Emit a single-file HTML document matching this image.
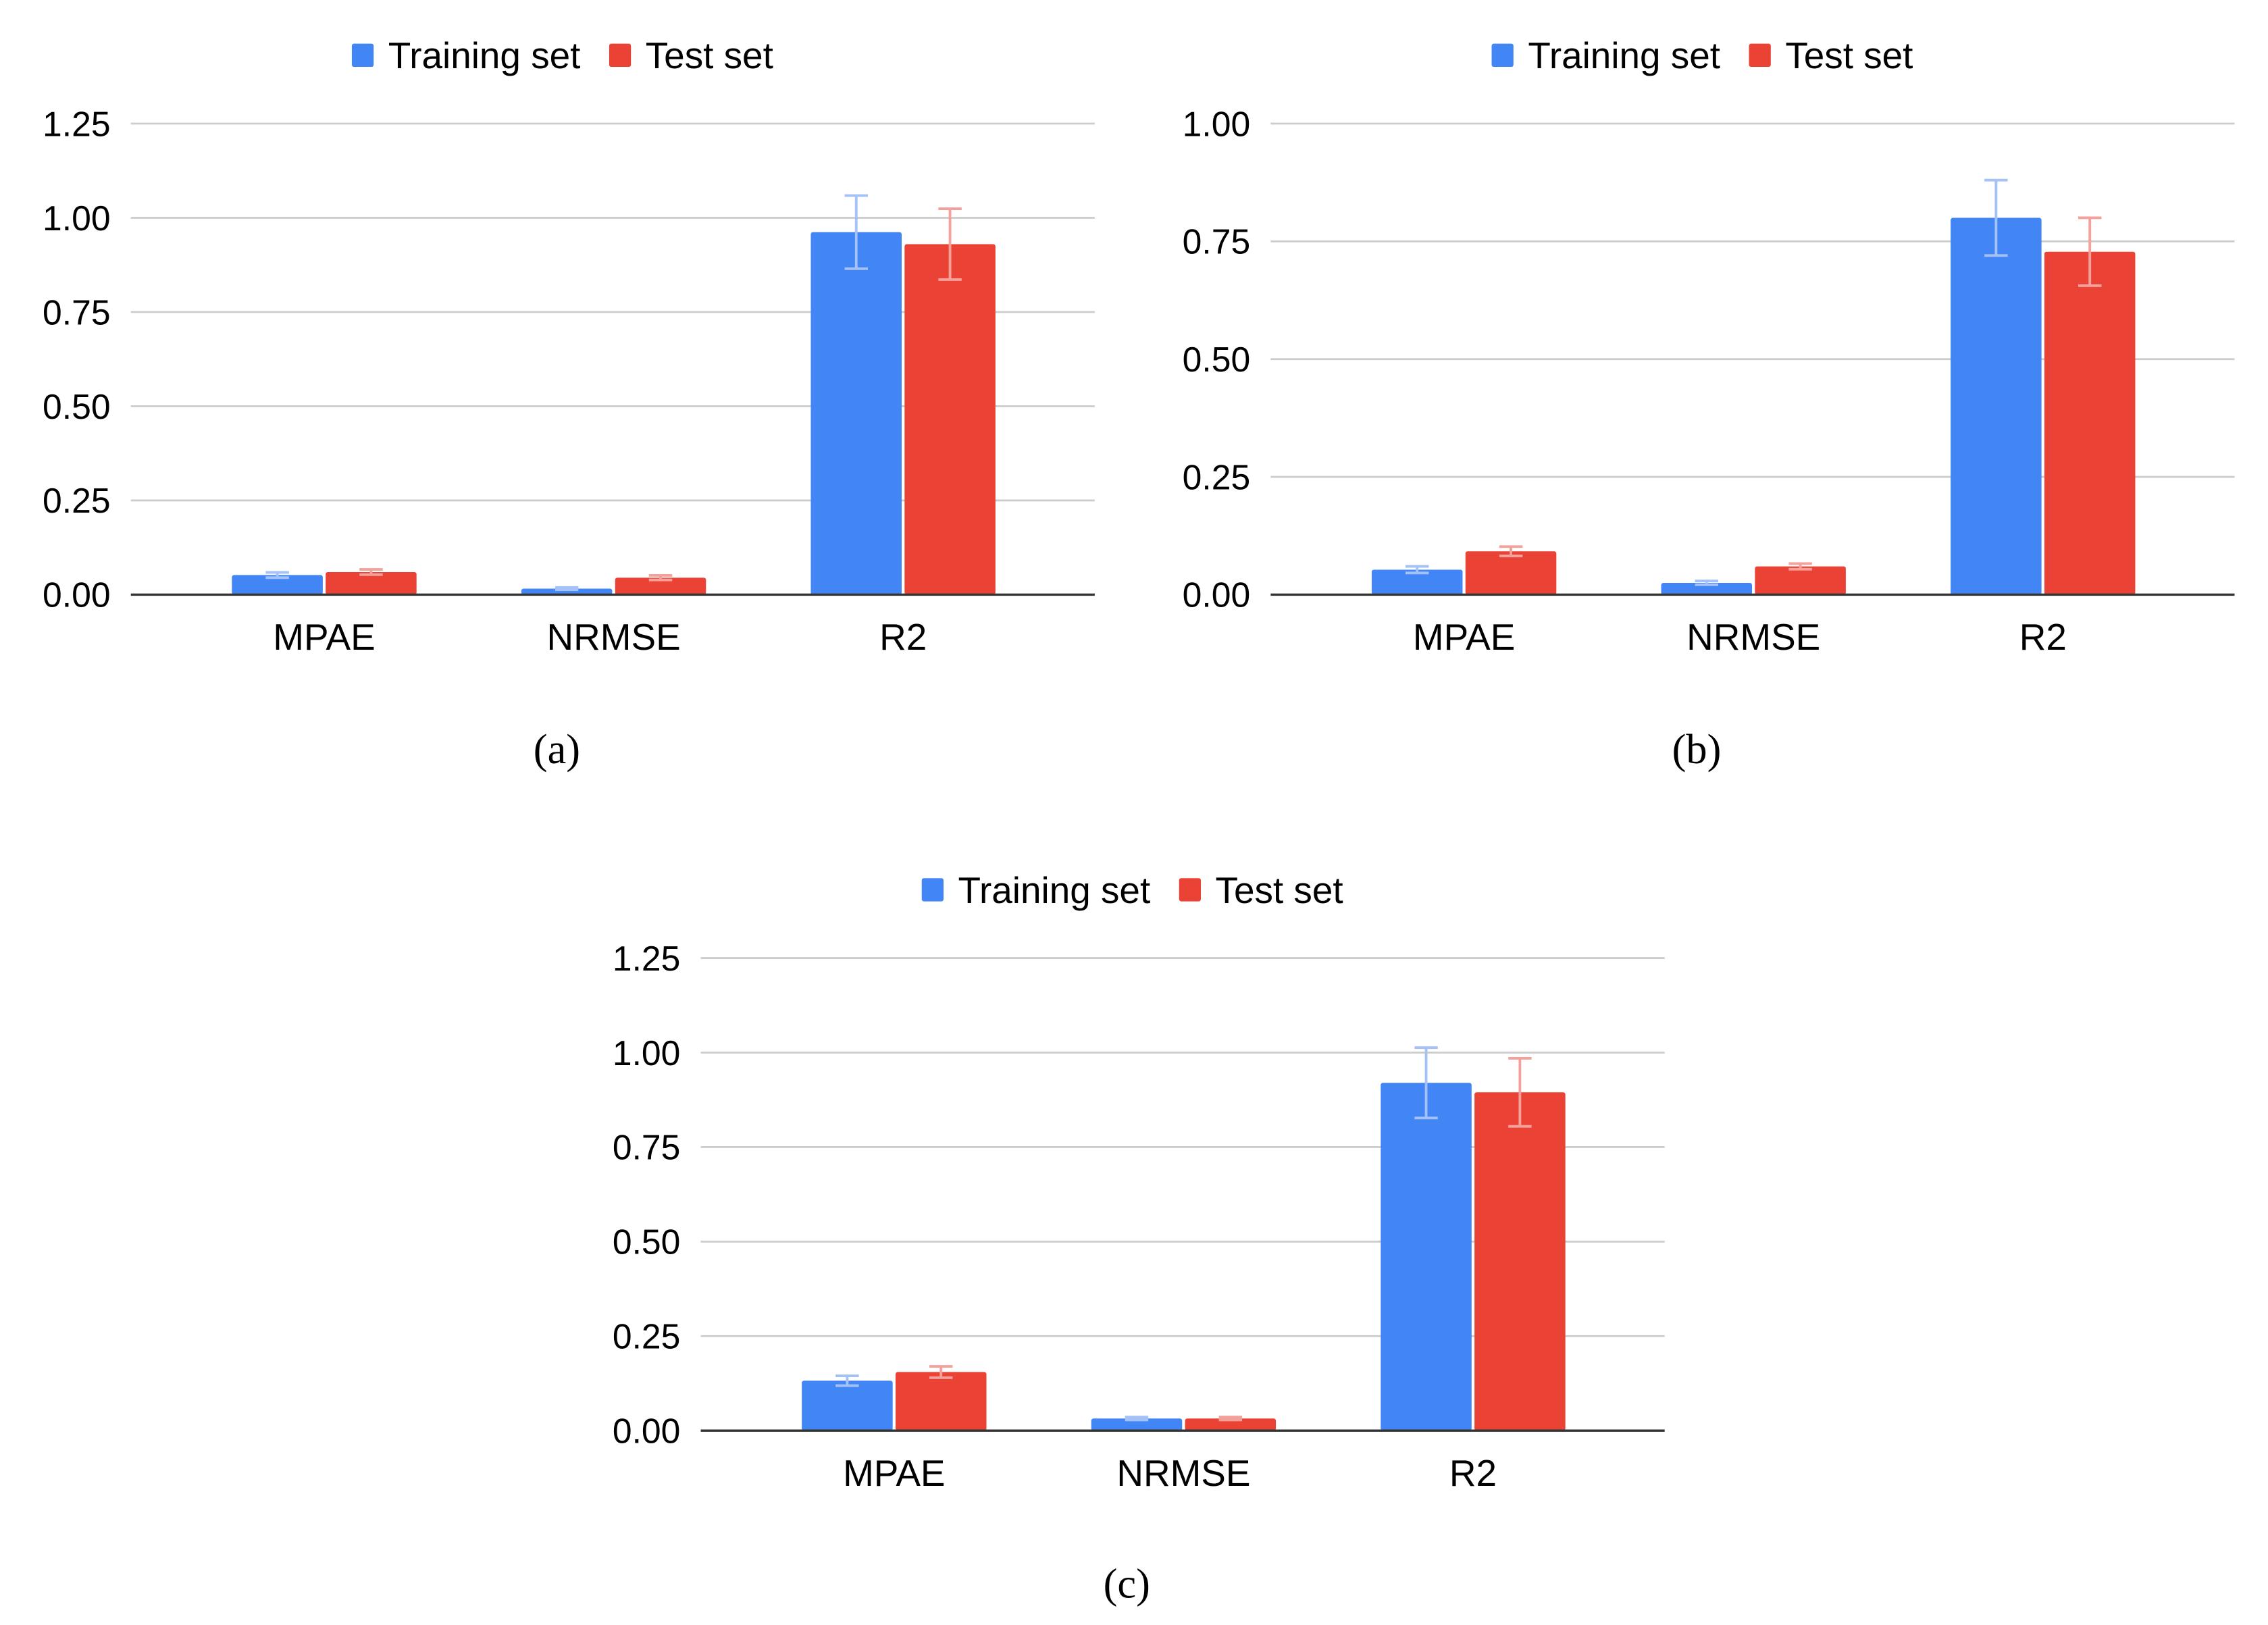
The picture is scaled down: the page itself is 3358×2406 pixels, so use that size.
<!DOCTYPE html>
<html><head><meta charset="utf-8">
<style>
html,body{margin:0;padding:0;background:#fff;}
svg{display:block;}
text{font-family:"Liberation Sans",Arial,sans-serif;fill:#000;}
.cap{font-family:"Liberation Serif",serif;}
</style></head>
<body>
<svg id="fig" width="3358" height="2406" viewBox="0 0 1560 1117.7" xmlns="http://www.w3.org/2000/svg"></svg>
<script>
const categories = ["MPAE", "NRMSE", "R2"];
const seriesNames = ["Training set", "Test set"];
const trainA = [0.052, 0.016, 0.962];
const testA = [0.060, 0.045, 0.930];
const trainErrA = [0.007, 0.003, 0.097];
const testErrA = [0.007, 0.006, 0.094];
const trainB = [0.053, 0.025, 0.800];
const testB = [0.092, 0.060, 0.728];
const trainErrB = [0.007, 0.004, 0.080];
const testErrB = [0.010, 0.006, 0.072];
const trainC = [0.132, 0.032, 0.920];
const testC = [0.155, 0.032, 0.895];
const trainErrC = [0.013, 0.004, 0.093];
const testErrC = [0.015, 0.004, 0.090];
const ticksA = [0, 0.25, 0.5, 0.75, 1.0, 1.25];
const ticksB = [0, 0.25, 0.5, 0.75, 1.0];
const ticksC = [0, 0.25, 0.5, 0.75, 1.0, 1.25];

const NS = "http://www.w3.org/2000/svg";
const svg = document.getElementById("fig");
const colors = ["#4285f4", "#ea4335"];
const errColors = ["#a4c2f7", "#f3a19a"];
function mk(tag, attrs, parent) {
  const e = document.createElementNS(NS, tag);
  for (const k in attrs) e.setAttribute(k, attrs[k]);
  (parent || svg).appendChild(e);
  return e;
}
function drawChart(id, x0, x1, yTop, yBot, ticks, train, test, trainErr, testErr, legendX, legendY, capText, capX, capY) {
  const g = mk("g", {});
  
  
  const maxV = ticks[ticks.length - 1];
  const y = v => yBot - (v / maxV) * (yBot - yTop);
  const step = (x1 - x0) / 3.33;
  const cx = i => x0 + 133 + i * step;
  ticks.forEach(t => {
    if (t > 0) {
      const l = mk("line", {x1: x0, x2: x1, y1: y(t), y2: y(t), stroke: "#cccccc", "stroke-width": 1.3}, g);
      
      
    }
    const tx = mk("text", {x: x0 - 14, y: y(t) + 8.5, "text-anchor": "end", "font-size": 24}, g);
    tx.textContent = t.toFixed(2);
    
    
  });
  const sets = [[train, trainErr], [test, testErr]];
  categories.forEach((c, i) => {
    sets.forEach((s, k) => {
      const bx = cx(i) - 63.5 + k * 64.5;
      const r = mk("rect", {x: bx, y: y(s[0][i]), width: 62.5, height: yBot - y(s[0][i]), fill: colors[k], rx: 1.5}, g);
      
      
      const ex = bx + 31.25;
      const eg = mk("g", {stroke: errColors[k], "stroke-width": 1.8}, g);
      
      
      const hi = y(s[0][i] + s[1][i]), lo = y(s[0][i] - s[1][i]);
      mk("line", {x1: ex, x2: ex, y1: hi, y2: lo}, eg);
      mk("line", {x1: ex - 8, x2: ex + 8, y1: hi, y2: hi}, eg);
      mk("line", {x1: ex - 8, x2: ex + 8, y1: lo, y2: lo}, eg);
    });
    const lbl = mk("text", {x: cx(i), y: yBot + 38, "text-anchor": "middle", "font-size": 25.5}, g);
    lbl.textContent = c;
    
    
  });
  const ax = mk("line", {x1: x0, x2: x1, y1: yBot, y2: yBot, stroke: "#333", "stroke-width": 1.6}, g);
  
  
  const lx = [legendX, legendX + 177];
  seriesNames.forEach((n, k) => {
    const lg = mk("g", {}, g);
    
    
    mk("rect", {x: lx[k], y: legendY - 8, width: 15, height: 16, fill: colors[k], rx: 1.5}, lg);
    const t = mk("text", {x: lx[k] + 25, y: legendY + 9, "font-size": 25.5}, lg);
    t.textContent = n;
  });
  const cap = mk("text", {x: capX, y: capY + 10, "text-anchor": "middle", "font-size": 29, class: "cap"}, g);
  cap.textContent = capText;
  
  
}
drawChart("a", 90, 753, 85, 409, ticksA, trainA, testA, trainErrA, testErrA, 242, 38, "(a)", 383, 515);
drawChart("b", 874, 1537, 85, 409, ticksB, trainB, testB, trainErrB, testErrB, 1026, 38, "(b)", 1167, 515);
drawChart("c", 482, 1145, 659, 984, ticksC, trainC, testC, trainErrC, testErrC, 634, 612, "(c)", 775, 1089);
</script>
</body></html>
